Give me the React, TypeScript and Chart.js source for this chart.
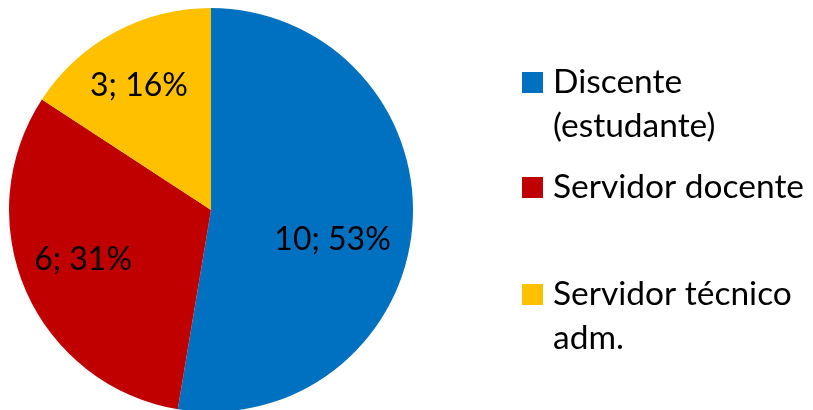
import React, { useEffect, useRef } from "react";
import { Chart, registerables } from "chart.js";

Chart.register(...registerables);

const categories: string[][] = [["Discente", "(estudante)"], ["Servidor docente"], ["Servidor técnico", "adm."]];
const values: number[] = [10, 6, 3];
const percentLabels: string[] = ["53%", "31%", "16%"];
const colors: string[] = ["#0070C0", "#C00000", "#FFC000"];

const FONT = "Lato, 'Noto Sans', sans-serif";

// label placement tweaks (angle offset in radians, radius fraction)
const labelPlacement = [
  { dAngle: 0.16, frac: 0.62 },
  { dAngle: 0.04, frac: 0.68 },
  { dAngle: -0.03, frac: 0.71 },
];

const dataLabelPlugin = {
  id: "dataLabels",
  afterDatasetsDraw(chart: any) {
    const ctx = chart.ctx;
    const meta = chart.getDatasetMeta(0);
    ctx.save();
    ctx.fillStyle = "#000";
    ctx.font = `32px ${FONT}`;
    ctx.textAlign = "center";
    ctx.textBaseline = "middle";
    meta.data.forEach((arc: any, i: number) => {
      const p = arc.getProps(["x", "y", "startAngle", "endAngle", "outerRadius"], true);
      const mid = (p.startAngle + p.endAngle) / 2 + labelPlacement[i].dAngle;
      const r = p.outerRadius * labelPlacement[i].frac;
      const x = p.x + Math.cos(mid) * r;
      const y = p.y + Math.sin(mid) * r;
      ctx.fillText(`${values[i]}; ${percentLabels[i]}`, x, y);
    });
    ctx.restore();
  },
};

const legendPlugin = {
  id: "customLegend",
  afterDraw(chart: any) {
    const ctx = chart.ctx;
    const squareX = 522;
    const textX = 553;
    const size = 21;
    const firstBaselines = [93, 198, 305];
    const lineGap = 44;
    ctx.save();
    ctx.font = `33.5px ${FONT}`;
    ctx.textAlign = "left";
    ctx.textBaseline = "alphabetic";
    categories.forEach((lines, i) => {
      const base = firstBaselines[i];
      ctx.fillStyle = colors[i];
      ctx.fillRect(squareX, base - size, size, size);
      ctx.fillStyle = "#000";
      lines.forEach((ln, j) => ctx.fillText(ln, textX, base + j * lineGap));
    });
    ctx.restore();
  },
};

export default function App() {
  const ref = useRef<HTMLCanvasElement>(null);
  useEffect(() => {
    if (!ref.current) return;
    const chart = new Chart(ref.current, {
      type: "pie",
      data: {
        labels: categories.map((c) => c.join(" ")),
        datasets: [
          {
            data: values,
            backgroundColor: colors,
            borderWidth: 0,
          },
        ],
      },
      options: {
        animation: false,
        responsive: false,
        devicePixelRatio: 1,
        layout: { padding: { left: 9, top: 8, right: 400, bottom: 8 } },
        plugins: {
          legend: { display: false },
          tooltip: { enabled: false },
        },
      },
      plugins: [dataLabelPlugin, legendPlugin],
    });
    return () => chart.destroy();
  }, []);
  return (
    <div style={{ position: "fixed", left: 0, top: 0, width: 813, height: 410, overflow: "hidden", background: "#fff" }}>
      <canvas ref={ref} width={813} height={420} style={{ width: 813, height: 420, display: "block" }} />
    </div>
  );
}
